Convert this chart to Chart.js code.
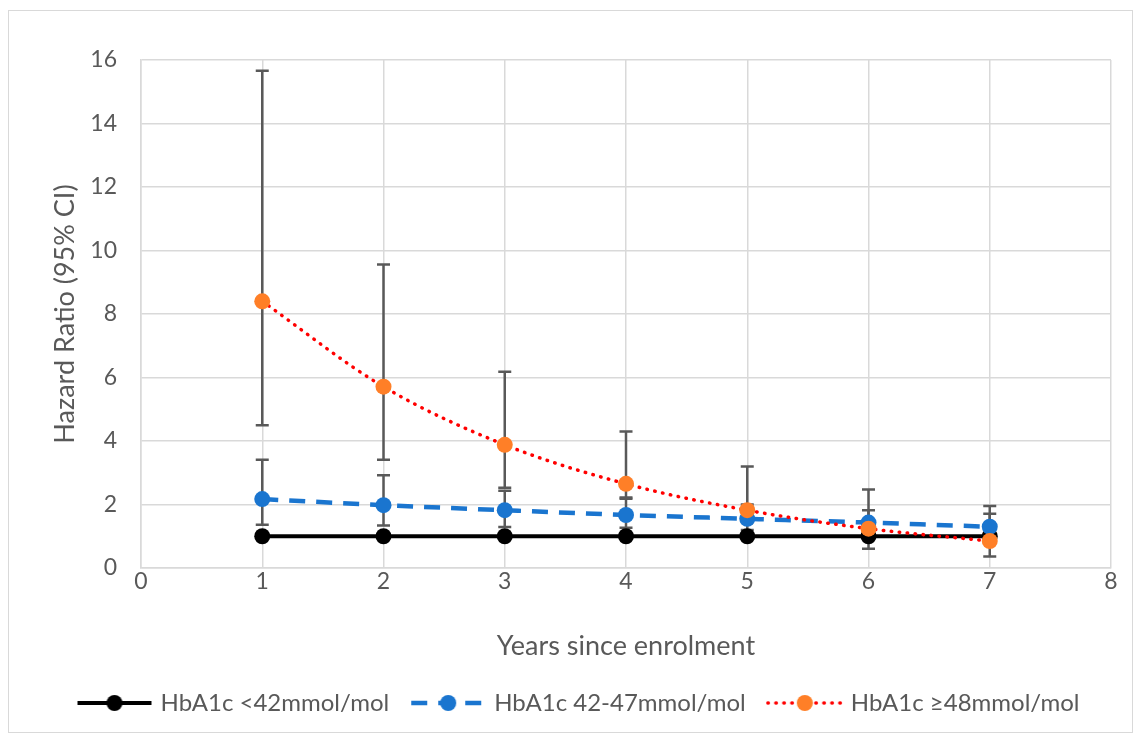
<!DOCTYPE html>
<html>
<head>
<meta charset="utf-8">
<script src="https://cdn.jsdelivr.net/npm/chart.js@4.4.1/dist/chart.umd.min.js"></script>
<style>
  body { margin: 0; background: #fff; }
  #frame { position: absolute; left: 8px; top: 10px; width: 1123px; height: 721px; border: 1.5px solid #d9d9d9; }
  #chart { position: absolute; left: 0; top: 0; }
</style>
</head>
<body>
<div id="frame"></div>
<canvas id="chart" width="1140" height="740"></canvas>
<script>
const FONT = "Lato, 'Noto Sans', sans-serif";
const TEXT = "#595959";

// data
const years = [1, 2, 3, 4, 5, 6, 7];
const xTicks = [0, 1, 2, 3, 4, 5, 6, 7, 8];
const yTicks = [0, 2, 4, 6, 8, 10, 12, 14, 16];

const hrLow = [1, 1, 1, 1, 1, 1, 1];
const hrMid = [2.17, 1.98, 1.82, 1.67, 1.55, 1.43, 1.30];
const hrMidLower = [1.36, 1.34, 1.29, 1.27, 1.20, 1.12, 1.02];
const hrMidUpper = [3.41, 2.92, 2.43, 2.18, 2.00, 1.82, 1.71];
const hrHigh = [8.40, 5.71, 3.88, 2.65, 1.82, 1.24, 0.85];
const hrHighLower = [4.50, 3.41, 2.53, 2.22, 1.45, 0.61, 0.36];
const hrHighUpper = [15.66, 9.56, 6.18, 4.30, 3.20, 2.47, 1.95];

const labels = ["HbA1c <42mmol/mol", "HbA1c 42-47mmol/mol", "HbA1c \u226548mmol/mol"];

const pts = (ys) => years.map((x, i) => ({ x: x, y: ys[i] }));

// error bars, drawn through the chart scales
const errorBars = {
  id: "errorBars",
  beforeDatasetsDraw(chart) {
    const ctx = chart.ctx;
    const xs = chart.scales.x;
    const ys = chart.scales.y;
    const sets = [[hrMidLower, hrMidUpper], [hrHighLower, hrHighUpper]];
    ctx.save();
    ctx.strokeStyle = "#595959";
    ctx.lineWidth = 2.5;
    sets.forEach(([lo, hi]) => {
      years.forEach((yr, i) => {
        const px = xs.getPixelForValue(yr);
        const y1 = ys.getPixelForValue(lo[i]);
        const y2 = ys.getPixelForValue(hi[i]);
        ctx.beginPath();
        ctx.moveTo(px, y1); ctx.lineTo(px, y2);
        ctx.moveTo(px - 6.5, y1); ctx.lineTo(px + 6.5, y1);
        ctx.moveTo(px - 6.5, y2); ctx.lineTo(px + 6.5, y2);
        ctx.stroke();
      });
    });
    ctx.restore();
  }
};

// little legend icons: line + marker
const makeIcon = (lineColor, dotColor, width, dash, cap) => {
  const c = document.createElement("canvas");
  c.width = 78; c.height = 20;
  const g = c.getContext("2d");
  g.strokeStyle = lineColor;
  g.lineWidth = width;
  g.lineCap = cap;
  g.setLineDash(dash);
  g.beginPath();
  g.moveTo(2, 10); g.lineTo(76, 10);
  g.stroke();
  g.setLineDash([]);
  g.fillStyle = dotColor;
  g.beginPath();
  g.arc(39, 10, 8, 0, Math.PI * 2);
  g.fill();
  return c;
};

const icons = [
  makeIcon("#000000", "#000000", 4, [], "butt"),
  makeIcon("#1a75cf", "#1a75cf", 4.5, [16, 11], "butt"),
  makeIcon("#ff0000", "#ff7f27", 3.5, [0.5, 7.5], "round")
];

new Chart(document.getElementById("chart"), {
  type: "line",
  data: {
    datasets: [
      {
        label: labels[0],
        data: pts(hrLow),
        borderColor: "#000000",
        backgroundColor: "#000000",
        borderWidth: 4,
        pointRadius: 8,
        pointBorderWidth: 0,
        tension: 0,
        order: 3
      },
      {
        label: labels[1],
        data: pts(hrMid),
        borderColor: "#1a75cf",
        backgroundColor: "#1a75cf",
        borderWidth: 4.5,
        borderDash: [16, 11],
        pointRadius: 8,
        pointBorderWidth: 0,
        cubicInterpolationMode: "monotone",
        order: 2
      },
      {
        label: labels[2],
        data: pts(hrHigh),
        borderColor: "#ff0000",
        backgroundColor: "#ff7f27",
        pointBackgroundColor: "#ff7f27",
        borderWidth: 3.5,
        borderDash: [0.5, 7.5],
        borderCapStyle: "round",
        pointRadius: 8,
        pointBorderWidth: 0,
        cubicInterpolationMode: "monotone",
        order: 1
      }
    ]
  },
  options: {
    responsive: false,
    animation: false,
    layout: { padding: { left: 49, right: 29, top: 60, bottom: 15 } },
    plugins: {
      tooltip: { enabled: false },
      legend: {
        position: "bottom",
        labels: {
          usePointStyle: true,
          pointStyleWidth: 68,
          padding: 25,
          color: TEXT,
          font: { family: FONT, size: 24 },
          generateLabels: (chart) => chart.data.datasets.map((ds, i) => ({
            text: ds.label,
            pointStyle: icons[i],
            fontColor: TEXT,
            lineWidth: 0,
            datasetIndex: i
          }))
        }
      }
    },
    scales: {
      x: {
        type: "linear",
        min: 0,
        max: 8,
        afterBuildTicks: (s) => { s.ticks = xTicks.map(v => ({ value: v })); },
        afterFit: (s) => { s.height = 98; },
        grid: { color: "#d9d9d9", lineWidth: 1.5, drawTicks: false },
        border: { color: "#d9d9d9", width: 1.5 },
        ticks: { color: TEXT, font: { family: FONT, size: 23 }, padding: 0 },
        title: {
          display: true,
          text: "Years since enrolment",
          color: TEXT,
          font: { family: FONT, size: 27 },
          padding: { top: 0, bottom: 4 }
        }
      },
      y: {
        min: 0,
        max: 16,
        afterBuildTicks: (s) => { s.ticks = yTicks.map(v => ({ value: v })); },
        afterFit: (s) => { s.width = 92; },
        grid: { color: "#d9d9d9", lineWidth: 1.5, drawTicks: false },
        border: { color: "#d9d9d9", width: 1.5 },
        ticks: { color: TEXT, font: { family: FONT, size: 23 }, padding: 24 },
        title: {
          display: true,
          text: "Hazard Ratio (95% CI)",
          color: TEXT,
          font: { family: FONT, size: 27 },
          padding: { top: 0, bottom: 0 }
        }
      }
    }
  },
  plugins: [errorBars]
});
</script>
</body>
</html>
